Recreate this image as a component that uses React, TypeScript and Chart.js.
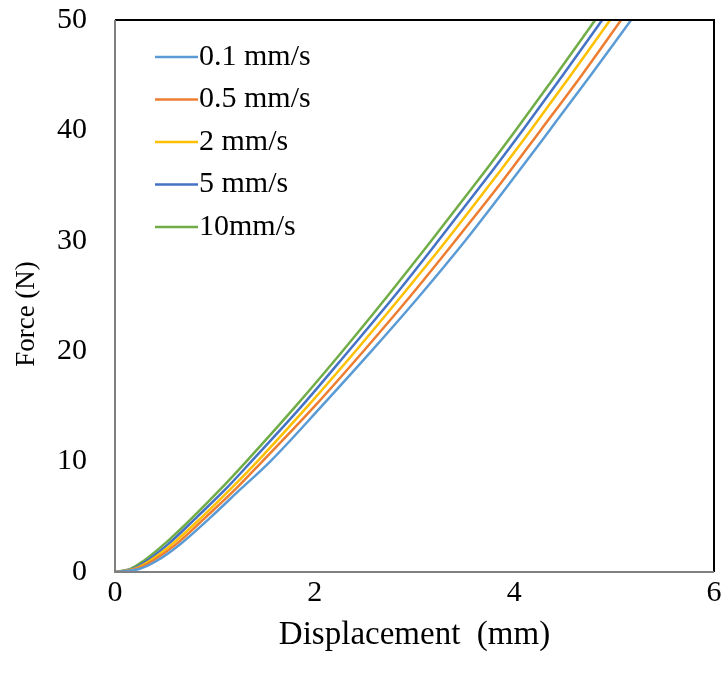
import React, { useEffect, useRef } from "react";
import { Chart, registerables } from "chart.js";

Chart.register(...registerables);

// Force levels (N) shared by every curve
const forceLevels = [0, 0.3, 1, 2.5, 5, 7.5, 10, 15, 20, 25, 30, 35, 40, 45, 50];

// Displacement (mm) read for each loading rate at the force levels above
const disp01 = [0, 0.25, 0.415, 0.65, 0.963, 1.257, 1.554, 2.068, 2.568, 3.05, 3.508, 3.936, 4.352, 4.765, 5.17];
const disp05 = [0, 0.22, 0.375, 0.61, 0.913, 1.207, 1.474, 1.998, 2.488, 2.96, 3.408, 3.846, 4.262, 4.675, 5.07];
const disp2 = [0, 0.2, 0.345, 0.57, 0.873, 1.157, 1.424, 1.928, 2.408, 2.87, 3.318, 3.746, 4.162, 4.565, 4.96];
const disp5 = [0, 0.18, 0.315, 0.53, 0.823, 1.107, 1.364, 1.868, 2.338, 2.8, 3.238, 3.666, 4.082, 4.485, 4.88];
const disp10 = [0, 0.16, 0.285, 0.49, 0.783, 1.057, 1.314, 1.808, 2.278, 2.73, 3.168, 3.596, 4.012, 4.415, 4.81];

const seriesLabels = ["0.1 mm/s", "0.5 mm/s", "2 mm/s", "5 mm/s", "10mm/s"];
const seriesColors = ["#5B9BD5", "#ED7D31", "#FFC000", "#4472C4", "#70AD47"];
const seriesDisp = [disp01, disp05, disp2, disp5, disp10];

const xTickValues = [0, 2, 4, 6];
const yTickValues = [0, 10, 20, 30, 40, 50];

const xTitle = "Displacement  (mm)";
const yTitle = "Force (N)";

const FONT = "'Liberation Serif', 'Times New Roman', serif";

const legendPlugin = {
  id: "insideLegend",
  afterDatasetsDraw(chart: any) {
    const { ctx, chartArea } = chart;
    ctx.save();
    ctx.font = `30px ${FONT}`;
    ctx.textBaseline = "middle";
    ctx.textAlign = "left";
    chart.data.datasets.forEach((ds: any, i: number) => {
      const y = chartArea.top + 37 + i * 42.5;
      const x0 = chartArea.left + 40;
      ctx.strokeStyle = ds.borderColor;
      ctx.lineWidth = 2.5;
      ctx.beginPath();
      ctx.moveTo(x0, y);
      ctx.lineTo(x0 + 43, y);
      ctx.stroke();
      ctx.fillStyle = "#000";
      ctx.fillText(ds.label, x0 + 44, y);
    });
    ctx.restore();
  },
};

const yTitlePlugin = {
  id: "yTitle",
  afterDraw(chart: any) {
    const { ctx, chartArea } = chart;
    ctx.save();
    ctx.translate(chartArea.left - 88, (chartArea.top + chartArea.bottom) / 2 + 18);
    ctx.rotate(-Math.PI / 2);
    ctx.font = `27px ${FONT}`;
    ctx.fillStyle = "#000";
    ctx.textAlign = "center";
    ctx.textBaseline = "middle";
    ctx.fillText(yTitle, 0, 0);
    ctx.restore();
  },
};

const borderPlugin = {
  id: "boxBorder",
  afterDraw(chart: any) {
    const { ctx, chartArea } = chart;
    const { left, right, top, bottom } = chartArea;
    ctx.save();
    ctx.lineWidth = 2;
    ctx.strokeStyle = "#000";
    ctx.beginPath();
    ctx.moveTo(left, top);
    ctx.lineTo(right, top);
    ctx.lineTo(right, bottom);
    ctx.stroke();
    ctx.strokeStyle = "#808080";
    ctx.beginPath();
    ctx.moveTo(left, top);
    ctx.lineTo(left, bottom);
    ctx.lineTo(right, bottom);
    ctx.stroke();
    ctx.restore();
  },
};

export default function App() {
  const canvasRef = useRef<HTMLCanvasElement>(null);

  useEffect(() => {
    document.body.style.margin = "0";
    const canvas = canvasRef.current;
    if (!canvas) return;
    const datasets = seriesLabels.map((label, i) => ({
      label,
      data: seriesDisp[i].map((x, k) => ({ x, y: forceLevels[k] })),
      borderColor: seriesColors[i],
      backgroundColor: seriesColors[i],
      borderWidth: 2.5,
      pointRadius: 0,
      showLine: true,
      fill: false,
      cubicInterpolationMode: "monotone" as const,
    }));
    const chart = new Chart(canvas, {
      type: "scatter",
      data: { datasets },
      options: {
        animation: false,
        responsive: false,
        layout: { padding: { top: 20, right: 13, bottom: 0, left: 0 } },
        plugins: { legend: { display: false }, tooltip: { enabled: false } },
        scales: {
          x: {
            type: "linear",
            min: 0,
            max: 6,
            afterFit(scale: any) {
              scale.height = 112;
              scale.paddingLeft = 0;
              scale.paddingRight = 0;
            },
            afterBuildTicks(scale: any) {
              scale.ticks = xTickValues.map((v) => ({ value: v }));
            },
            grid: { display: false, drawTicks: false },
            border: { display: false },
            ticks: {
              padding: 3,
              color: "#000",
              font: { family: FONT, size: 30 },
            },
            title: {
              display: true,
              text: xTitle,
              color: "#000",
              font: { family: FONT, size: 33 },
              padding: { top: 0, bottom: 29 },
            },
          },
          y: {
            type: "linear",
            min: 0,
            max: 50,
            afterFit(scale: any) {
              scale.width = 115;
              scale.paddingTop = 0;
              scale.paddingBottom = 0;
            },
            afterBuildTicks(scale: any) {
              scale.ticks = yTickValues.map((v) => ({ value: v }));
            },
            grid: { display: false, drawTicks: false },
            border: { display: false },
            ticks: {
              padding: 28,
              color: "#000",
              font: { family: FONT, size: 30 },
            },
            title: { display: false },
          },
        },
      },
      plugins: [legendPlugin, borderPlugin, yTitlePlugin],
    });
    return () => chart.destroy();
  }, []);

  return (
    <div style={{ width: 727, height: 684, background: "#fff" }}>
      <canvas ref={canvasRef} width={727} height={684} style={{ display: "block" }} />
    </div>
  );
}
